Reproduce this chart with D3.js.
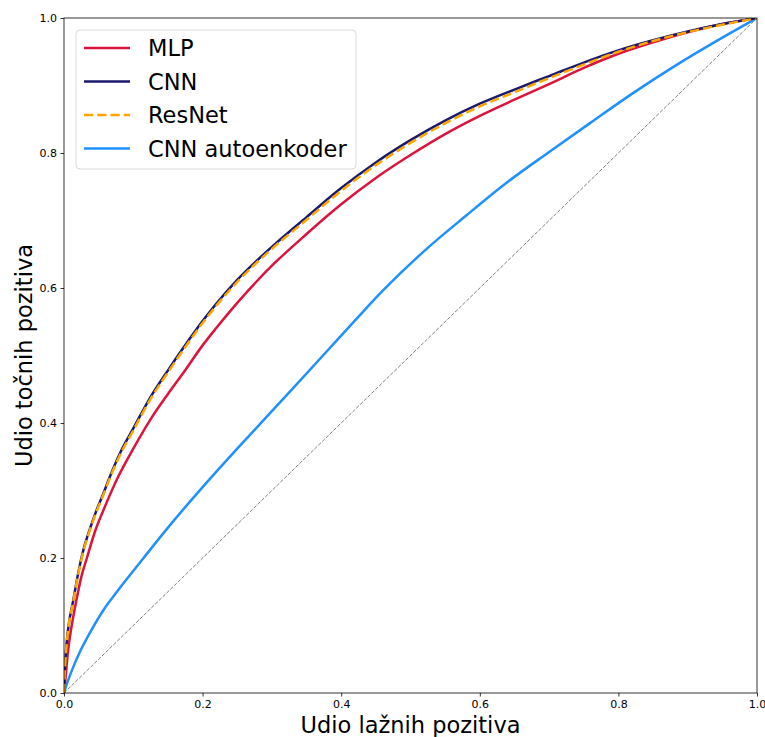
<!DOCTYPE html>
<html><head><meta charset="utf-8">
<script src="https://cdn.jsdelivr.net/npm/d3@7"></script>
<style>body{margin:0;background:#fff}svg{display:block}text{font-family:"DejaVu Sans",sans-serif}</style>
</head><body><svg id="c" width="765" height="737"></svg>
<script>
const seriesNames = ["MLP","CNN","ResNet","CNN autoenkoder"];
const xTicks = [0,0.2,0.4,0.6,0.8,1.0];
const yTicks = [0,0.2,0.4,0.6,0.8,1.0];

const mlpFpr = [0,0.002,0.006,0.012,0.018,0.025,0.033,0.045,0.057,0.078,0.1,0.124,0.15,0.172,0.2,0.22,0.25,0.3,0.35,0.4,0.45,0.5,0.55,0.6,0.65,0.7,0.75,0.8,0.85,0.9,0.95,1.0];
const mlpTpr = [0,0.02,0.064,0.105,0.138,0.172,0.2,0.24,0.271,0.32,0.362,0.404,0.443,0.474,0.515,0.541,0.578,0.633,0.68,0.724,0.763,0.797,0.828,0.855,0.879,0.902,0.926,0.947,0.964,0.979,0.991,1.0];

const cnnFpr = [0,0.001,0.003,0.006,0.0135,0.02,0.028,0.038,0.047,0.057,0.066,0.083,0.1,0.124,0.15,0.172,0.2,0.22,0.25,0.3,0.35,0.4,0.45,0.5,0.55,0.6,0.65,0.7,0.75,0.8,0.85,0.9,0.95,1.0];
const cnnTpr = [0,0.03,0.064,0.095,0.138,0.175,0.212,0.245,0.271,0.296,0.32,0.36,0.392,0.437,0.478,0.511,0.551,0.577,0.612,0.661,0.705,0.748,0.786,0.819,0.848,0.873,0.894,0.914,0.934,0.952,0.967,0.98,0.991,1.0];

const resFpr = [0,0.001,0.003,0.006,0.0135,0.02,0.028,0.038,0.047,0.057,0.066,0.083,0.1,0.124,0.15,0.172,0.2,0.22,0.25,0.3,0.35,0.4,0.45,0.5,0.55,0.6,0.65,0.7,0.75,0.8,0.85,0.9,0.95,1.0];
const resTpr = [0,0.028,0.062,0.093,0.136,0.173,0.21,0.243,0.269,0.294,0.318,0.357,0.389,0.434,0.475,0.508,0.548,0.574,0.609,0.658,0.701,0.744,0.782,0.815,0.844,0.869,0.89,0.911,0.931,0.95,0.966,0.979,0.99,1.0];

const aeFpr = [0,0.005,0.012,0.023,0.04,0.057,0.075,0.09,0.114,0.15,0.2,0.25,0.286,0.33,0.38,0.42,0.46,0.52,0.58,0.64,0.698,0.76,0.82,0.88,0.94,1.0];
const aeTpr = [0,0.016,0.035,0.061,0.094,0.123,0.148,0.168,0.199,0.245,0.305,0.362,0.402,0.451,0.507,0.552,0.596,0.655,0.707,0.757,0.8,0.845,0.888,0.928,0.965,1.0];

const diagX = [0,1];
const diagY = [0,1];

const svg = d3.select("#c");
const L = 64, R = 757, T = 18, B = 693;
const x = d3.scaleLinear().domain([0,1]).range([L,R]);
const y = d3.scaleLinear().domain([0,1]).range([B,T]);

svg.append("defs").append("clipPath").attr("id","clip")
  .append("rect").attr("x",L).attr("y",T).attr("width",R-L).attr("height",B-T);

const line = d3.line().x(d=>x(d[0])).y(d=>y(d[1])).curve(d3.curveMonotoneX);
const g = svg.append("g").attr("clip-path","url(#clip)");

g.append("path").datum(d3.zip(diagX,diagY)).attr("d",line)
  .attr("fill","none").attr("stroke","#808080").attr("stroke-width",1).attr("stroke-dasharray","3.7,1.6");

const series = [
  {name:seriesNames[3], data:d3.zip(aeFpr,aeTpr), color:"#1e90ff", dash:null},
  {name:seriesNames[0], data:d3.zip(mlpFpr,mlpTpr), color:"#dc143c", dash:null},
  {name:seriesNames[1], data:d3.zip(cnnFpr,cnnTpr), color:"#191970", dash:null},
  {name:seriesNames[2], data:d3.zip(resFpr,resTpr), color:"#ffa500", dash:"9.25,4"}
];
series.forEach(s=>{
  g.append("path").datum(s.data).attr("d",line).attr("fill","none")
   .attr("stroke",s.color).attr("stroke-width",2.5)
   .attr("stroke-dasharray",s.dash).attr("stroke-linejoin","round");
});

// axes
const xa = svg.append("g").attr("transform",`translate(0,${B})`)
  .call(d3.axisBottom(x).tickValues(xTicks).tickFormat(d3.format(".1f")).tickSize(3.5).tickPadding(3.5));
const ya = svg.append("g").attr("transform",`translate(${L},0)`)
  .call(d3.axisLeft(y).tickValues(yTicks).tickFormat(d3.format(".1f")).tickSize(3.5).tickPadding(3.5));
[xa,ya].forEach(a=>{
  a.select(".domain").remove();
  a.selectAll("text").attr("font-size",11).attr("fill","#000").style("font-family","DejaVu Sans");
  a.selectAll("line").attr("stroke","#000").attr("stroke-width",0.8);
});
svg.append("rect").attr("x",L).attr("y",T).attr("width",R-L).attr("height",B-T)
  .attr("fill","none").attr("stroke","#000").attr("stroke-width",0.8);

svg.append("text").attr("x",(L+R)/2).attr("y",733).attr("text-anchor","middle")
  .attr("font-size",22.5).text("Udio lažnih pozitiva");
svg.append("text").attr("transform",`translate(32,${(T+B)/2}) rotate(-90)`)
  .attr("text-anchor","middle").attr("font-size",22.5).text("Udio točnih pozitiva");

// legend
const lg = svg.append("g");
lg.append("rect").attr("x",76).attr("y",30).attr("width",280).attr("height",139).attr("rx",4)
  .attr("fill","#fff").attr("fill-opacity",0.8).attr("stroke","#d9d9d9").attr("stroke-width",1);
const legItems = [
  {name:seriesNames[0], color:"#dc143c", dash:null},
  {name:seriesNames[1], color:"#191970", dash:null},
  {name:seriesNames[2], color:"#ffa500", dash:"9.25,4"},
  {name:seriesNames[3], color:"#1e90ff", dash:null}
];
legItems.forEach((d,i)=>{
  const yy = 48 + i*33.5;
  lg.append("line").attr("x1",84).attr("x2",130).attr("y1",yy).attr("y2",yy)
    .attr("stroke",d.color).attr("stroke-width",2.5).attr("stroke-dasharray",d.dash);
  lg.append("text").attr("x",148).attr("y",yy+8).attr("font-size",22.5).attr("fill","#000").text(d.name);
});
</script></body></html>
